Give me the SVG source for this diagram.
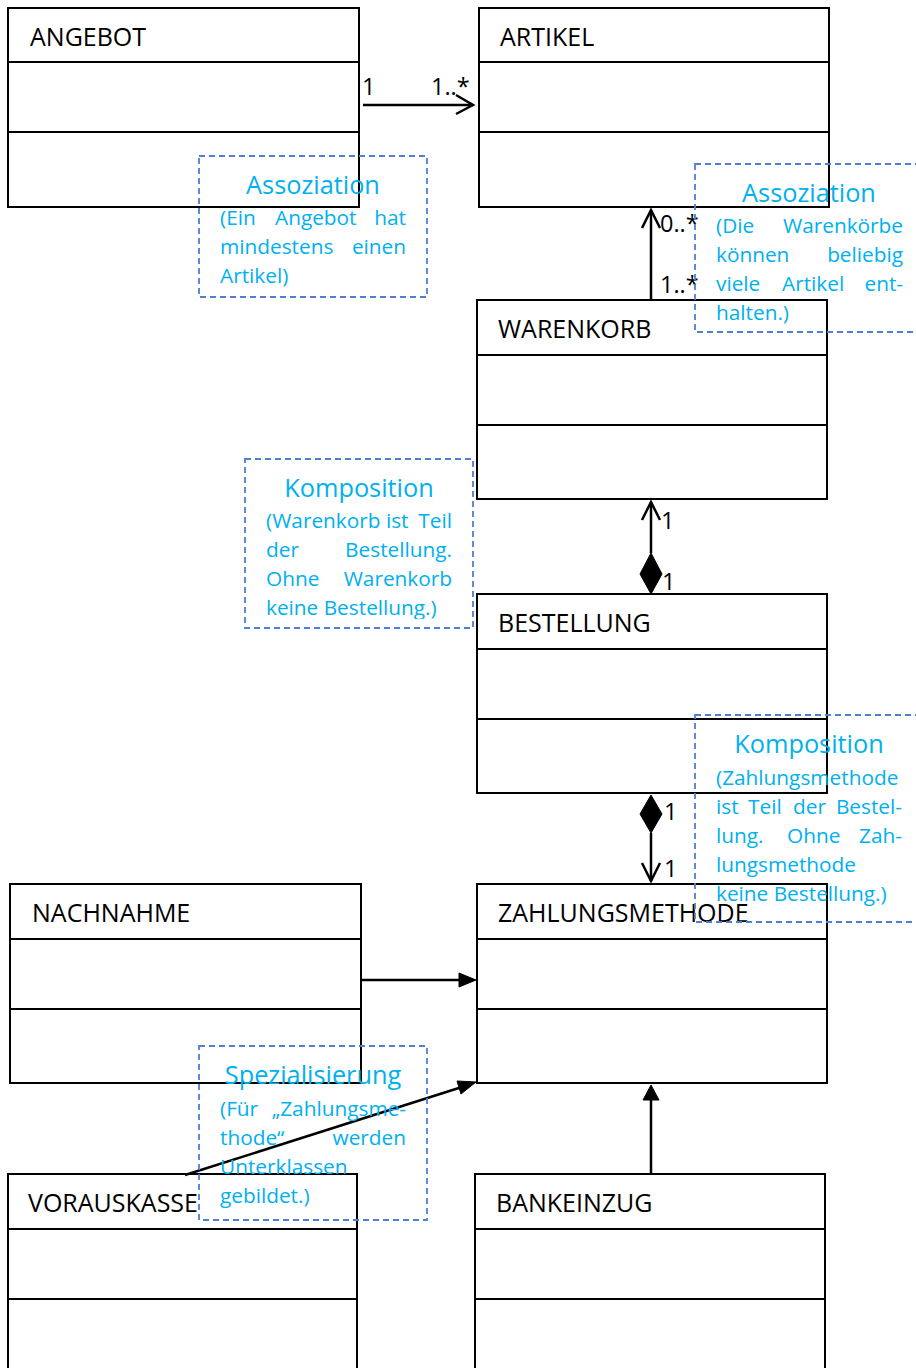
<svg xmlns="http://www.w3.org/2000/svg" width="916" height="1368" viewBox="0 0 916 1368">
<style>
.box{fill:#fff;stroke:#000;stroke-width:2}
.div{stroke:#000;stroke-width:2}
.title{font-family:"Open Sans","Liberation Sans",sans-serif;font-size:25px;fill:#000}
.mult{font-family:"Open Sans","Liberation Sans",sans-serif;font-size:23.5px;fill:#000}
.conn{stroke:#000;stroke-width:2.5;fill:none}
.head{fill:#000;stroke:#000;stroke-width:1}
.note{fill:none;stroke:#4F7FD0;stroke-width:1.8;stroke-dasharray:6 4}
.nt{font-family:"Open Sans","Liberation Sans",sans-serif;font-size:25.3px;fill:#00B0F0}
.nb{font-family:"Open Sans","Liberation Sans",sans-serif;font-size:20.8px;fill:#00B0F0}
.r{text-anchor:end}
.c{text-anchor:middle}
</style>
<defs>
<clipPath id="clip3"><rect x="245" y="459" width="228" height="160"/></clipPath>
</defs>
<rect width="916" height="1368" fill="#fff"/>

<g id="angebot">
<rect class="box" x="8" y="8" width="351" height="199"/>
<line class="div" x1="8" y1="62" x2="359" y2="62"/>
<line class="div" x1="8" y1="132" x2="359" y2="132"/>
<text class="title" x="30" y="46">ANGEBOT</text>
</g>
<g id="artikel">
<rect class="box" x="479" y="8" width="350" height="199"/>
<line class="div" x1="479" y1="62" x2="829" y2="62"/>
<line class="div" x1="479" y1="132" x2="829" y2="132"/>
<text class="title" x="500" y="46">ARTIKEL</text>
</g>
<g id="warenkorb">
<rect class="box" x="477" y="300" width="350" height="199"/>
<line class="div" x1="477" y1="355" x2="827" y2="355"/>
<line class="div" x1="477" y1="425" x2="827" y2="425"/>
<text class="title" x="498" y="338">WARENKORB</text>
</g>
<g id="bestellung">
<rect class="box" x="477" y="594" width="350" height="199"/>
<line class="div" x1="477" y1="649" x2="827" y2="649"/>
<line class="div" x1="477" y1="719" x2="827" y2="719"/>
<text class="title" x="498" y="632">BESTELLUNG</text>
</g>
<g id="nachnahme">
<rect class="box" x="10" y="884" width="351" height="199"/>
<line class="div" x1="10" y1="939" x2="361" y2="939"/>
<line class="div" x1="10" y1="1009" x2="361" y2="1009"/>
<text class="title" x="32" y="922">NACHNAHME</text>
</g>
<g id="zahlungsmethode">
<rect class="box" x="477" y="884" width="350" height="199"/>
<line class="div" x1="477" y1="939" x2="827" y2="939"/>
<line class="div" x1="477" y1="1009" x2="827" y2="1009"/>
<text class="title" x="498" y="922">ZAHLUNGSMETHODE</text>
</g>
<g id="vorauskasse">
<rect class="box" x="8" y="1174" width="349" height="210"/>
<line class="div" x1="8" y1="1229" x2="357" y2="1229"/>
<line class="div" x1="8" y1="1299" x2="357" y2="1299"/>
<text class="title" x="28" y="1212">VORAUSKASSE</text>
</g>
<g id="bankeinzug">
<rect class="box" x="475" y="1174" width="350" height="210"/>
<line class="div" x1="475" y1="1229" x2="825" y2="1229"/>
<line class="div" x1="475" y1="1299" x2="825" y2="1299"/>
<text class="title" x="496" y="1212">BANKEINZUG</text>
</g>

<g id="connectors">
<!-- Angebot -> Artikel -->
<line class="conn" x1="363" y1="105" x2="473" y2="105"/>
<polyline class="conn" points="456,95 473,105 456,114"/>
<text class="mult" x="362" y="95">1</text>
<text class="mult" x="431" y="95">1..*</text>
<!-- Warenkorb -> Artikel -->
<line class="conn" x1="651" y1="299" x2="651" y2="210"/>
<polyline class="conn" points="642,228 651,210 660,228"/>
<text class="mult" x="660" y="232">0..*</text>
<text class="mult" x="660" y="293">1..*</text>
<!-- Bestellung composition Warenkorb -->
<line class="conn" x1="651" y1="553" x2="651" y2="502"/>
<polyline class="conn" points="642,520 651,502 660,520"/>
<polygon class="head" points="651,553 662,574 651,594 640,574"/>
<text class="mult" x="661" y="529">1</text>
<text class="mult" x="662" y="590">1</text>
<!-- Bestellung composition Zahlungsmethode -->
<polygon class="head" points="651,795 662,814 651,833 640,814"/>
<line class="conn" x1="651" y1="833" x2="651" y2="881"/>
<polyline class="conn" points="642,863 651,881 660,863"/>
<text class="mult" x="664" y="820">1</text>
<text class="mult" x="664" y="877">1</text>
<!-- Nachnahme -> Zahlungsmethode -->
<line class="conn" x1="361" y1="980" x2="462" y2="980"/>
<polygon class="head" points="476,980 459,973 459,987"/>
<!-- Vorauskasse -> Zahlungsmethode -->
<line class="conn" x1="185" y1="1175" x2="462" y2="1087"/>
<polygon class="head" points="476,1082 457,1081 461,1094"/>
<!-- Bankeinzug -> Zahlungsmethode -->
<line class="conn" x1="651" y1="1174" x2="651" y2="1099"/>
<polygon class="head" points="651,1085 643,1100 659,1100"/>
</g>

<g id="note-assoziation-1">
<rect class="note" x="199" y="156" width="228" height="141"/>
<text class="nt c" x="313" y="194">Assoziation</text>
<text class="nb" x="220" y="225">(Ein</text>
<text class="nb" x="275" y="225">Angebot</text>
<text class="nb r" x="406" y="225">hat</text>
<text class="nb" x="220" y="254">mindestens</text>
<text class="nb r" x="406" y="254">einen</text>
<text class="nb" x="220" y="283">Artikel)</text>
</g>

<g id="note-assoziation-2">
<rect class="note" x="695" y="164" width="240" height="168"/>
<text class="nt c" x="809" y="202">Assoziation</text>
<text class="nb" x="716" y="233">(Die</text>
<text class="nb r" x="903" y="233">Warenkörbe</text>
<text class="nb" x="716" y="262">können</text>
<text class="nb r" x="903" y="262">beliebig</text>
<text class="nb" x="716" y="291">viele</text>
<text class="nb" x="782" y="291">Artikel</text>
<text class="nb r" x="903" y="291">ent-</text>
<text class="nb" x="716" y="320">halten.)</text>
</g>

<g id="note-komposition-1">
<rect class="note" x="245" y="459" width="228" height="169"/>
<g clip-path="url(#clip3)">
<text class="nt c" x="359" y="497">Komposition</text>
<text class="nb" x="266" y="528">(Warenkorb ist</text>
<text class="nb r" x="452" y="528">Teil</text>
<text class="nb" x="266" y="557">der</text>
<text class="nb r" x="452" y="557">Bestellung.</text>
<text class="nb" x="266" y="586">Ohne</text>
<text class="nb r" x="452" y="586">Warenkorb</text>
<text class="nb" x="266" y="615">keine Bestellung.)</text>
</g>
</g>

<g id="note-komposition-2">
<rect class="note" x="695" y="715" width="240" height="207"/>
<text class="nt c" x="809" y="753">Komposition</text>
<text class="nb" x="716" y="785">(Zahlungsmethode</text>
<text class="nb" x="716" y="814">ist</text>
<text class="nb" x="748" y="814">Teil</text>
<text class="nb" x="793" y="814">der</text>
<text class="nb r" x="902" y="814">Bestel-</text>
<text class="nb" x="716" y="843">lung.</text>
<text class="nb" x="787" y="843">Ohne</text>
<text class="nb r" x="902" y="843">Zah-</text>
<text class="nb" x="716" y="872">lungsmethode</text>
<text class="nb" x="716" y="901">keine Bestellung.)</text>
</g>

<g id="note-spezialisierung">
<rect class="note" x="199" y="1046" width="228" height="174"/>
<text class="nt c" x="313" y="1084">Spezialisierung</text>
<text class="nb" x="220" y="1116">(Für</text>
<text class="nb r" x="406" y="1116">„Zahlungsme-</text>
<text class="nb" x="220" y="1145">thode“</text>
<text class="nb r" x="406" y="1145">werden</text>
<text class="nb" x="220" y="1174">Unterklassen</text>
<text class="nb" x="220" y="1203">gebildet.)</text>
</g>
</svg>
